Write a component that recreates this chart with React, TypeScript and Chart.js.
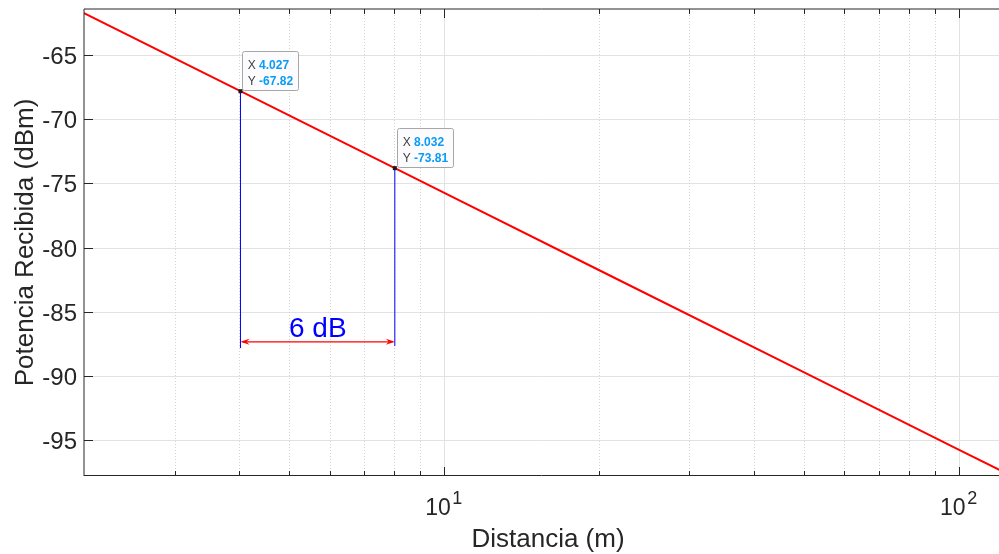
import React, { useEffect, useRef } from "react";
import { Chart, registerables } from "chart.js";

Chart.register(...registerables);

// ---- data ----
const distancias = [2, 4.027, 8.032, 10, 20, 50, 100, 120];
const potencia = [-61.74, -67.82, -73.81, -75.72, -81.74, -89.7, -95.72, -97.3];

const yTicks = [-95, -90, -85, -80, -75, -70, -65];
const xMajorTicks = [10, 100];
const xMajorExp = ["1", "2"];
const xMinorTicks = [3, 4, 5, 6, 7, 8, 9, 20, 30, 40, 50, 60, 70, 80, 90];

const tipX = [4.027, 8.032];
const tipY = [-67.82, -73.81];
const tipXText = ["4.027", "8.032"];
const tipYText = ["-67.82", "-73.81"];

const markBottom = [-87.82, -87.66];
const arrowY = -87.33;
const deltaLabel = "6 dB";
const deltaLabelX = 5.69;
const deltaLabelY = -86.98;

const xRange = [2, 119.8];
const yRange = [-97.78, -61.42];

const xTitle = "Distancia (m)";
const yTitle = "Potencia Recibida (dBm)";

const FONT = "'Liberation Sans', Arial, Helvetica, sans-serif";
const AXIS_COLOR = "#262626";

export default function App() {
  const ref = useRef<HTMLCanvasElement>(null);

  useEffect(() => {
    const canvas = ref.current;
    if (!canvas) return;

    const plugin = {
      id: "matlabAxes",
      beforeDatasetsDraw(chart: any) {
        const { ctx, chartArea: a, scales } = chart;
        const xs = scales.x;
        const ys = scales.y;
        ctx.save();
        ctx.lineWidth = 1;
        // y major grid
        ctx.strokeStyle = "#e2e2e2";
        ctx.setLineDash([]);
        yTicks.forEach((v) => {
          const y = Math.round(ys.getPixelForValue(v)) + 0.5;
          ctx.beginPath();
          ctx.moveTo(a.left, y);
          ctx.lineTo(a.right, y);
          ctx.stroke();
        });
        // x major grid
        xMajorTicks.forEach((v) => {
          const x = Math.round(xs.getPixelForValue(v)) + 0.5;
          ctx.beginPath();
          ctx.moveTo(x, a.top);
          ctx.lineTo(x, a.bottom);
          ctx.stroke();
        });
        // x minor grid (dotted)
        ctx.strokeStyle = "#d2d2d2";
        ctx.setLineDash([1, 2]);
        xMinorTicks.forEach((v) => {
          const x = Math.round(xs.getPixelForValue(v)) + 0.5;
          ctx.beginPath();
          ctx.moveTo(x, a.top);
          ctx.lineTo(x, a.bottom);
          ctx.stroke();
        });
        ctx.restore();
      },
      afterDatasetsDraw(chart: any) {
        const { ctx, chartArea: a, scales } = chart;
        const xs = scales.x;
        const ys = scales.y;
        ctx.save();

        // axes box lines
        ctx.setLineDash([]);
        ctx.strokeStyle = AXIS_COLOR;
        ctx.lineWidth = 1;
        ctx.beginPath();
        ctx.moveTo(a.left, a.bottom - 0.5);
        ctx.lineTo(a.right, a.bottom - 0.5);
        ctx.stroke();
        ctx.beginPath();
        ctx.moveTo(a.left, a.top);
        ctx.lineTo(a.right, a.top);
        ctx.stroke();
        ctx.beginPath();
        ctx.moveTo(a.left, a.top);
        ctx.lineTo(a.left, a.bottom);
        ctx.stroke();

        // ticks (inward)
        const majorLen = 9;
        const minorLen = 5;
        const drawXTick = (v: number, len: number) => {
          const x = Math.round(xs.getPixelForValue(v)) + 0.5;
          ctx.beginPath();
          ctx.moveTo(x, a.bottom);
          ctx.lineTo(x, a.bottom - len);
          ctx.moveTo(x, a.top);
          ctx.lineTo(x, a.top + len);
          ctx.stroke();
        };
        xMajorTicks.forEach((v) => drawXTick(v, majorLen));
        xMinorTicks.forEach((v) => drawXTick(v, minorLen));
        yTicks.forEach((v) => {
          const y = Math.round(ys.getPixelForValue(v)) + 0.5;
          ctx.beginPath();
          ctx.moveTo(a.left, y);
          ctx.lineTo(a.left + majorLen, y);
          ctx.stroke();
        });

        // y tick labels
        ctx.fillStyle = AXIS_COLOR;
        ctx.font = `24px ${FONT}`;
        ctx.textAlign = "right";
        ctx.textBaseline = "alphabetic";
        yTicks.forEach((v) => {
          const y = ys.getPixelForValue(v);
          ctx.fillText(String(v), a.left - 7, y + 9);
        });

        // x tick labels with superscript exponent
        xMajorTicks.forEach((v, i) => {
          const x = xs.getPixelForValue(v);
          ctx.font = `23px ${FONT}`;
          const wBase = ctx.measureText("10").width;
          ctx.font = `18px ${FONT}`;
          const wExp = ctx.measureText(xMajorExp[i]).width;
          const gap = 1.5;
          const start = x - (wBase + gap + wExp) / 2;
          ctx.textAlign = "left";
          ctx.font = `23px ${FONT}`;
          ctx.fillText("10", start, a.bottom + 39);
          ctx.font = `18px ${FONT}`;
          ctx.fillText(xMajorExp[i], start + wBase + gap, a.bottom + 28);
        });

        // axis titles
        ctx.font = `26px ${FONT}`;
        ctx.textAlign = "center";
        ctx.fillText(xTitle, 548, 547);
        ctx.save();
        ctx.translate(33, (a.top + a.bottom) / 2);
        ctx.rotate(-Math.PI / 2);
        ctx.fillText(yTitle, 0, 0);
        ctx.restore();

        // vertical marker lines
        ctx.strokeStyle = "#0000ff";
        ctx.lineWidth = 1;
        tipX.forEach((v, i) => {
          const x = xs.getPixelForValue(v);
          ctx.beginPath();
          ctx.moveTo(x, ys.getPixelForValue(tipY[i]));
          ctx.lineTo(x, ys.getPixelForValue(markBottom[i]));
          ctx.stroke();
        });

        // double arrow
        const ax1 = xs.getPixelForValue(tipX[0]);
        const ax2 = xs.getPixelForValue(tipX[1]);
        const ay = ys.getPixelForValue(arrowY);
        ctx.strokeStyle = "#ff0000";
        ctx.fillStyle = "#ff0000";
        ctx.lineWidth = 1.3;
        ctx.beginPath();
        ctx.moveTo(ax1 + 2, ay);
        ctx.lineTo(ax2 - 2, ay);
        ctx.stroke();
        const head = (tipx: number, dir: number) => {
          ctx.beginPath();
          ctx.moveTo(tipx, ay);
          ctx.lineTo(tipx + dir * 9, ay - 3);
          ctx.lineTo(tipx + dir * 6, ay);
          ctx.lineTo(tipx + dir * 9, ay + 3);
          ctx.closePath();
          ctx.fill();
        };
        head(ax1, 1);
        head(ax2, -1);

        // 6 dB label
        ctx.fillStyle = "#0000ff";
        ctx.font = `28px ${FONT}`;
        ctx.textAlign = "center";
        ctx.fillText(deltaLabel, xs.getPixelForValue(deltaLabelX), ys.getPixelForValue(deltaLabelY));

        // data tips
        tipX.forEach((v, i) => {
          const px = xs.getPixelForValue(v);
          const py = ys.getPixelForValue(tipY[i]);
          ctx.font = `12px ${FONT}`;
          const wLab = ctx.measureText("X ").width;
          ctx.font = `bold 12px ${FONT}`;
          const wVal = Math.max(ctx.measureText(tipXText[i]).width, ctx.measureText(tipYText[i]).width);
          const bx = Math.round(px + 2) + 0.5;
          const bh = 39;
          const by = Math.round(py - 1 - bh) + 0.5;
          const bw = Math.round(5.7 + wLab + wVal + 5);
          ctx.fillStyle = "rgba(252,252,255,0.95)";
          ctx.strokeStyle = "#a6a6a6";
          ctx.lineWidth = 1;
          ctx.beginPath();
          const r = 2;
          ctx.moveTo(bx + r, by);
          ctx.lineTo(bx + bw - r, by);
          ctx.quadraticCurveTo(bx + bw, by, bx + bw, by + r);
          ctx.lineTo(bx + bw, by + bh - r);
          ctx.quadraticCurveTo(bx + bw, by + bh, bx + bw - r, by + bh);
          ctx.lineTo(bx + r, by + bh);
          ctx.quadraticCurveTo(bx, by + bh, bx, by + bh - r);
          ctx.lineTo(bx, by + r);
          ctx.quadraticCurveTo(bx, by, bx + r, by);
          ctx.closePath();
          ctx.fill();
          ctx.stroke();

          ctx.textAlign = "left";
          const tx = bx + 5.2;
          ctx.font = `12px ${FONT}`;
          ctx.fillStyle = "#404040";
          ctx.fillText("X", tx, by + 17);
          ctx.fillText("Y", tx, by + 33.5);
          ctx.font = `bold 12px ${FONT}`;
          ctx.fillStyle = "#0a9bf5";
          ctx.fillText(tipXText[i], tx + wLab, by + 17);
          ctx.fillText(tipYText[i], tx + wLab, by + 33.5);

          // marker dot
          ctx.fillStyle = "#1a1a1a";
          ctx.fillRect(px - 2, py - 2, 4, 4);
        });

        ctx.restore();
      },
    };

    const chart = new Chart(canvas, {
      type: "line",
      data: {
        datasets: [
          {
            data: distancias.map((d, i) => ({ x: d, y: potencia[i] })),
            borderColor: "#ff0000",
            borderWidth: 2,
            pointRadius: 0,
            tension: 0,
            fill: false,
          },
        ],
      },
      options: {
        responsive: false,
        animation: false,
        devicePixelRatio: 1,
        events: [],
        layout: { padding: { left: 84, top: 9, right: 0, bottom: 78 } },
        plugins: { legend: { display: false }, tooltip: { enabled: false } },
        scales: {
          x: { type: "logarithmic", display: false, min: xRange[0], max: xRange[1] },
          y: { type: "linear", display: false, min: yRange[0], max: yRange[1] },
        },
      },
      plugins: [plugin],
    });

    return () => chart.destroy();
  }, []);

  return (
    <div style={{ position: "absolute", left: 0, top: 0, width: 999, height: 554, background: "#ffffff" }}>
      <canvas ref={ref} width={999} height={554} style={{ display: "block" }} />
    </div>
  );
}
